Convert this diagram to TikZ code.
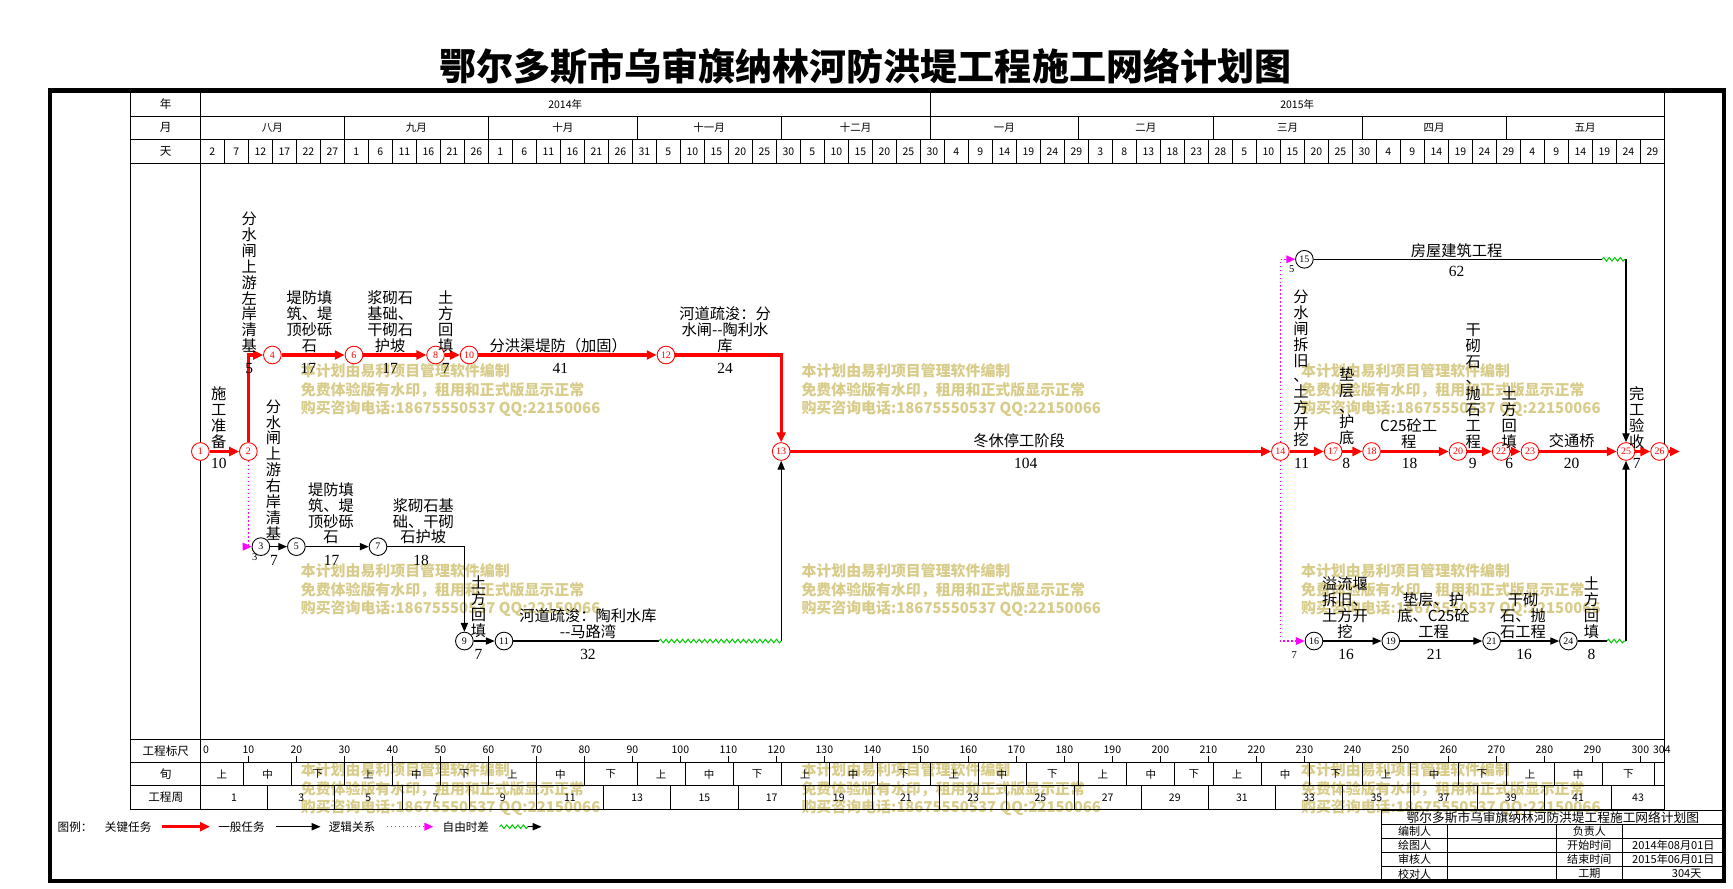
\documentclass[tikz,border=0pt]{standalone}
\usepackage{fontspec}
\setmainfont{Liberation Serif}
\newfontfamily\cjk{Noto Sans CJK SC}
\usetikzlibrary{arrows.meta,decorations.pathmorphing}
\definecolor{wmc}{RGB}{216,204,138}
\definecolor{critc}{RGB}{255,0,0}
\definecolor{magc}{RGB}{255,0,255}
\definecolor{wavc}{RGB}{0,200,0}
\pgfmathdeclarefunction{xd}{1}{\pgfmathparse{181.3+4.343*(#1)}}
\tikzset{
  critline/.style={draw=critc, line width=3pt},
  critarrow/.style={critline, -{Triangle[length=9pt,width=8pt]}},
  genline/.style={draw=black, line width=1.1pt},
  genarrow/.style={genline, -{Triangle[length=8pt,width=6.5pt]}},
  logarrow/.style={draw=magc, line width=1.2pt, dash pattern=on 1.4pt off 2.2pt, -{Triangle[length=8pt,width=7pt]}},
  waveline/.style={draw=wavc, line width=0.9pt, decorate, decoration={snake, amplitude=1.6pt, segment length=5pt}},
  cnode/.style={circle, draw=critc, line width=0.8pt, minimum size=16pt, inner sep=0pt, text=critc, fill=white, font=\fontsize{9}{9}\selectfont},
  bnode/.style={circle, draw=black, line width=0.8pt, minimum size=16pt, inner sep=0pt, text=black, fill=white, font=\fontsize{9}{9}\selectfont},
  lab/.style={font=\cjk\fontsize{13.8}{14.4}\selectfont, align=center, inner sep=0pt},
  dur/.style={font=\fontsize{14}{14}\selectfont, inner sep=0pt},
  lag/.style={font=\fontsize{9.5}{9.5}\selectfont, inner sep=0pt},
  wm/.style={font=\cjk\bfseries\fontsize{13.5}{13.5}\selectfont, text=wmc, inner sep=0pt, anchor=base west},
  hdr/.style={font=\cjk\fontsize{9.5}{9.5}\selectfont, inner sep=0pt},
  rowlab/.style={font=\cjk\fontsize{10.5}{10.5}\selectfont, inner sep=0pt},
  leg/.style={font=\cjk\fontsize{10.5}{10.5}\selectfont, inner sep=0pt},
  tb/.style={font=\cjk\fontsize{10}{10}\selectfont, inner sep=0pt},
  gridl/.style={draw=black, line width=0.8pt}
}
\begin{document}
\begin{tikzpicture}[x=1pt,y=-1pt]
\useasboundingbox (0,0) rectangle (1568,804.36);
\fill[white] (0,0) rectangle (1568,804.36);

% watermarks
\foreach \gx/\gy [count=\g] in {272/336,725/336,1177/336,272/517,725/517,1177/517,272/697,725/697,1177/697}{
  \node[wm] (wa\g) at (\gx,\gy+5) {本计划由易利项目管理软件编制};
  \node[wm] (wb\g) at (\gx,\gy+21.5) {免费体验版有水印，租用和正式版显示正常};
  \node[wm] (wc\g) at (\gx,\gy+38) {购买咨询电话:18675550537 QQ:22150066};
}

% title
\node[font=\cjk\bfseries\fontsize{33.5}{33.5}\selectfont, inner sep=0pt] (title) at (783,60) {鄂尔多斯市乌审旗纳林河防洪堤工程施工网络计划图};

% outer frame
\draw[line width=4pt] (45,82) rectangle (1560,797);

% table grid
\draw[gridl] (118,83.5) rectangle (1506,732);
\foreach \yy in {105,126,148,669,690,711}{\draw[gridl] (118,\yy) -- (1506,\yy);}
\draw[gridl] (181.3,83.5) -- (181.3,732);
\draw[gridl] ({xd(152)},83.5) -- ({xd(152)},105);
\node[rowlab] (rl1) at (150,94.5) {年};
\node[rowlab] (rl2) at (150,115.5) {月};
\node[rowlab] (rl3) at (150,137) {天};
\node[rowlab] (rl4) at (150,679.5) {工程标尺};
\node[rowlab] (rl5) at (150,700.5) {旬};
\node[rowlab] (rl6) at (150,721.5) {工程周};
\node[hdr] (yr1) at ({xd(76)},94.5) {2014年};
\node[hdr] (yr2) at (1173.7,94.5) {2015年};
\foreach \a/\b/\t [count=\m] in {0/30/八月,30/60/九月,60/91/十月,91/121/十一月,121/152/十二月,152/183/一月,183/211/二月,211/242/三月,242/272/四月,272/305/五月}{
  \node[hdr] (mo\m) at ({xd((\a+\b)/2)},115.5) {\t};
  \ifnum\b<305 \draw[gridl] ({xd(\b)},105) -- ({xd(\b)},126);\fi
}
\foreach \lab [count=\i] in {2,7,12,17,22,27,1,6,11,16,21,26,1,6,11,16,21,26,31,5,10,15,20,25,30,5,10,15,20,25,30,4,9,14,19,24,29,3,8,13,18,23,28,5,10,15,20,25,30,4,9,14,19,24,29,4,9,14,19,24,29}{
  \node[hdr] (dd\i) at ({xd(5*\i-2.5)},137) {\lab};
}
\foreach \k in {1,...,60}{\draw[gridl] ({xd(5*\k)},126) -- ({xd(5*\k)},148);}

% scale row
\node[hdr, anchor=west] (s0) at (183.5,678.5) {0};
\foreach \v in {10,20,...,300}{
  \node[hdr] (s\v) at ({xd(\v)},678.5) {\v};
  \draw[gridl] ({xd(\v)},684) -- ({xd(\v)},690);
}
\node[hdr, anchor=west] (s304) at (1495.5,678.5) {304};

% xun row
\foreach \a/\b/\t [count=\q] in {0/9/上,9/19/中,19/30/下,30/40/上,40/50/中,50/60/下,60/70/上,70/80/中,80/91/下,91/101/上,101/111/中,111/121/下,121/131/上,131/141/中,141/152/下,152/162/上,162/172/中,172/183/下,183/193/上,193/203/中,203/211/下,211/221/上,221/231/中,231/242/下,242/252/上,252/262/中,262/272/下,272/282/上,282/292/中,292/303/下}{
  \node[hdr] (xu\q) at ({xd((\a+\b)/2)},700.5) {\t};
  \draw[gridl] ({xd(\b)},690) -- ({xd(\b)},711);
}

% week row
\foreach \k in {0,...,20}{
  \pgfmathtruncatemacro{\wl}{2*\k+1}
  \node[hdr] (wk\k) at ({xd(14*\k+7)},721.5) {\wl};
  \draw[gridl] ({xd(14*\k+14)},711) -- ({xd(14*\k+14)},732);
}
\node[hdr] (wk21) at ({xd(299.5)},721.5) {43};

% ---------------- network nodes ----------------
\node[cnode] (n1) at ({xd(0)},408.5) {1};
\node[cnode] (n2) at ({xd(10)},408.5) {2};
\node[cnode] (n4) at ({xd(15)},321.2) {4};
\node[cnode] (n6) at ({xd(32)},321.2) {6};
\node[cnode] (n8) at ({xd(49)},321.2) {8};
\node[cnode] (n10) at ({xd(56)},321.2) {10};
\node[cnode] (n12) at ({xd(97)},321.2) {12};
\node[cnode] (n13) at ({xd(121)},408.5) {13};
\node[cnode] (n14) at ({xd(225)},408.5) {14};
\node[cnode] (n17) at ({xd(236)},408.5) {17};
\node[cnode] (n18) at ({xd(244)},408.5) {18};
\node[cnode] (n20) at ({xd(262)},408.5) {20};
\node[cnode] (n22) at ({xd(271)},408.5) {22};
\node[cnode] (n23) at ({xd(277)},408.5) {23};
\node[cnode] (n25) at ({xd(297)},408.5) {25};
\node[cnode] (n26) at ({xd(304)},408.5) {26};
\node[bnode] (n3) at ({xd(12.6)},494.6) {3};
\node[bnode] (n5) at ({xd(20)},494.6) {5};
\node[bnode] (n7) at ({xd(37)},494.6) {7};
\node[bnode] (n9) at ({xd(55)},580) {9};
\node[bnode] (n11) at (456,580) {11};
\node[bnode] (n15) at ({xd(230)},234.6) {15};
\node[bnode] (n16) at ({xd(232)},580) {16};
\node[bnode] (n19) at ({xd(248)},580) {19};
\node[bnode] (n21) at ({xd(269)},580) {21};
\node[bnode] (n24) at ({xd(285)},580) {24};

% ---------------- connectors ----------------
\draw[critarrow] (n1) -- (n2);
\draw[critarrow] (n2) |- (n4);
\draw[critarrow] (n4) -- (n6);
\draw[critarrow] (n6) -- (n8);
\draw[critarrow] (n8) -- (n10);
\draw[critarrow] (n10) -- (n12);
\draw[critarrow] (n12) -| (n13);
\draw[critarrow] (n13) -- (n14);
\draw[critarrow] (n14) -- (n17);
\draw[critarrow] (n17) -- (n18);
\draw[critarrow] (n18) -- (n20);
\draw[critarrow] (n20) -- (n22);
\draw[critarrow] (n22) -- (n23);
\draw[critarrow] (n23) -- (n25);
\draw[critarrow] (n25) -- (n26);
\coordinate (fin) at (1520,408.5);
\draw[critarrow] (n26) -- (fin);

\draw[logarrow] (n2) |- (n3);
\draw[genarrow] (n3) -- (n5);
\draw[genarrow] (n5) -- (n7);
\draw[genarrow] (n7) -| (n9);
\draw[genarrow] (n9) -- (n11);
\coordinate (ws1) at (596,580);
\coordinate (we1) at (n13 |- n11);
\draw[genline] (n11) -- (ws1);
\draw[waveline] (ws1) -- (we1);
\draw[genarrow] (we1) -- (n13);

\draw[logarrow] (n14) |- (n15);
\draw[logarrow] (n14) |- (n16);
\coordinate (ws2) at ({xd(292)},234.6);
\coordinate (we2) at (n25 |- n15);
\draw[genline] (n15) -- (ws2);
\draw[waveline] (ws2) -- (we2);
\draw[genarrow] (we2) -- (n25);
\draw[genarrow] (n16) -- (n19);
\draw[genarrow] (n19) -- (n21);
\draw[genarrow] (n21) -- (n24);
\coordinate (ws3) at ({xd(293)},580);
\coordinate (we3) at (n25 |- n24);
\draw[genline] (n24) -- (ws3);
\draw[waveline] (ws3) -- (we3);
\draw[genarrow] (we3) -- (n25);

% ---------------- labels ----------------
\node[lab, anchor=south] (t1) at (225.5,319.2) {分\\水\\闸\\上\\游\\左\\岸\\清\\基};
\node[dur] (u1) at (225.5,333.3) {5};
\node[lab, anchor=south] (t2) at (280,319.2) {堤防填\\筑、堤\\顶砂砾\\石};
\node[dur] (u2) at (279,333.3) {17};
\node[lab, anchor=south] (t3) at (353,319.2) {浆砌石\\基础、\\干砌石\\护坡};
\node[dur] (u3) at (353,333.3) {17};
\node[lab, anchor=south] (t4) at (403.3,319.2) {土\\方\\回\\填};
\node[dur] (u4) at (403.3,333.3) {7};
\node[lab, anchor=south] (t5) at (505,319.2) {分洪渠堤防（加固）};
\node[dur] (u5) at (507,333.3) {41};
\node[lab, anchor=south] (t6) at (656,319.2) {河道疏浚：分\\水闸{-}{-}陶利水\\库};
\node[dur] (u6) at (656,333.3) {24};

\node[lab, anchor=south] (t7) at (198,406) {施\\工\\准\\备};
\node[dur] (u7) at (198,419.5) {10};
\node[lab, anchor=south] (t8) at (922,405) {冬休停工阶段};
\node[dur] (u8) at (928,419.5) {104};
\node[lab, anchor=south] (t9) at (1177.2,404.5) {分\\水\\闸\\拆\\旧\\、\\土\\方\\开\\挖};
\node[dur] (u9) at (1177.7,419.5) {11};
\node[lab, anchor=south] (t10) at (1218.5,403) {垫\\层\\、\\护\\底};
\node[dur] (u10) at (1218,419.5) {8};
\node[lab, anchor=south] (t11) at (1274.5,406) {C25砼工\\程};
\node[dur] (u11) at (1275.3,419.5) {18};
\node[lab, anchor=south] (t12) at (1333,406) {干\\砌\\石\\、\\抛\\石\\工\\程};
\node[dur] (u12) at (1332.6,419.5) {9};
\node[lab, anchor=south] (t13) at (1365.6,406) {土\\方\\回\\填};
\node[dur] (u13) at (1365.6,419.5) {6};
\node[lab, anchor=south] (t14) at (1422,405) {交通桥};
\node[dur] (u14) at (1422,419.5) {20};
\node[lab, anchor=south] (t15) at (1481,406) {完\\工\\验\\收};
\node[dur] (u15) at (1481,419.5) {7};

\node[lab, anchor=south] (t16) at (247.5,489) {分\\水\\闸\\上\\游\\右\\岸\\清\\基};
\node[dur] (u16) at (248,506.7) {7};
\node[lab, anchor=south] (t17) at (299.5,492.6) {堤防填\\筑、堤\\顶砂砾\\石};
\node[dur] (u17) at (300,506.7) {17};
\node[lab, anchor=south] (t18) at (383,492.6) {浆砌石基\\础、干砌\\石护坡};
\node[dur] (u18) at (381,506.7) {18};
\node[lab, anchor=south] (t19) at (433,577) {土\\方\\回\\填};
\node[dur] (u19) at (433,592) {7};
\node[lab, anchor=south] (t20) at (532,578) {河道疏浚：陶利水库\\{-}{-}马路湾};
\node[dur] (u20) at (532,592) {32};

\node[lab, anchor=south] (t21) at (1217,578) {溢流堰\\拆旧、\\土方开\\挖};
\node[dur] (u21) at (1218,592) {16};
\node[lab, anchor=south] (t22) at (1297,578) {垫层、护\\底、C25砼\\工程};
\node[dur] (u22) at (1298,592) {21};
\node[lab, anchor=south] (t23) at (1378,578) {干砌\\石、抛\\石工程};
\node[dur] (u23) at (1379,592) {16};
\node[lab, anchor=south] (t24) at (1440,578) {土\\方\\回\\填};
\node[dur] (u24) at (1440,592) {8};

\node[lab, anchor=south] (t25) at (1318,233) {房屋建筑工程};
\node[dur] (u25) at (1318,245.2) {62};

\node[lag] (g1) at (230.4,503.7) {3};
\node[lag] (g2) at (1168.7,243.4) {5};
\node[lag] (g3) at (1171,592.5) {7};

% ---------------- legend ----------------
\node[leg, anchor=west] (lg0) at (52,748) {图例：};
\node[leg] (lg1) at (116,748) {关键任务};
\coordinate (la1) at (147,748); \coordinate (lb1) at (190,748);
\draw[critarrow] (la1) -- (lb1);
\node[leg] (lg2) at (218.5,748) {一般任务};
\coordinate (la2) at (250,748); \coordinate (lb2) at (290,748);
\draw[genarrow] (la2) -- (lb2);
\node[leg] (lg3) at (318.5,748) {逻辑关系};
\coordinate (la3) at (350,748); \coordinate (lb3) at (392,748);
\draw[logarrow] (la3) -- (lb3);
\node[leg] (lg4) at (421.5,748) {自由时差};
\coordinate (la4) at (452,748); \coordinate (lm4) at (478,748); \coordinate (lb4) at (490,748);
\draw[waveline] (la4) -- (lm4);
\draw[genarrow] (lm4) -- (lb4);

% ---------------- title block ----------------
\draw[gridl] (1250,733) rectangle (1560,797);
\foreach \yy in {746,758.75,771.5,784.25}{\draw[gridl] (1250,\yy) -- (1560,\yy);}
\foreach \xx in {1310,1408,1468}{\draw[gridl] (\xx,746) -- (\xx,797);}
\node[tb, font=\cjk\fontsize{11.5}{11.5}\selectfont] (tb0) at (1405,739.5) {鄂尔多斯市乌审旗纳林河防洪堤工程施工网络计划图};
\node[tb] (tb11) at (1280,752.4) {编制人};
\node[tb] (tb13) at (1438,752.4) {负责人};
\node[tb] (tb21) at (1280,765.1) {绘图人};
\node[tb] (tb23) at (1438,765.1) {开始时间};
\node[tb] (tb24) at (1514,765.1) {2014年08月01日};
\node[tb] (tb31) at (1280,777.9) {审核人};
\node[tb] (tb33) at (1438,777.9) {结束时间};
\node[tb] (tb34) at (1514,777.9) {2015年06月01日};
\node[tb] (tb41) at (1280,790.6) {校对人};
\node[tb] (tb43) at (1438,790.6) {工期};
\node[tb] (tb44) at (1526,790.6) {304天};
\end{tikzpicture}
\end{document}
